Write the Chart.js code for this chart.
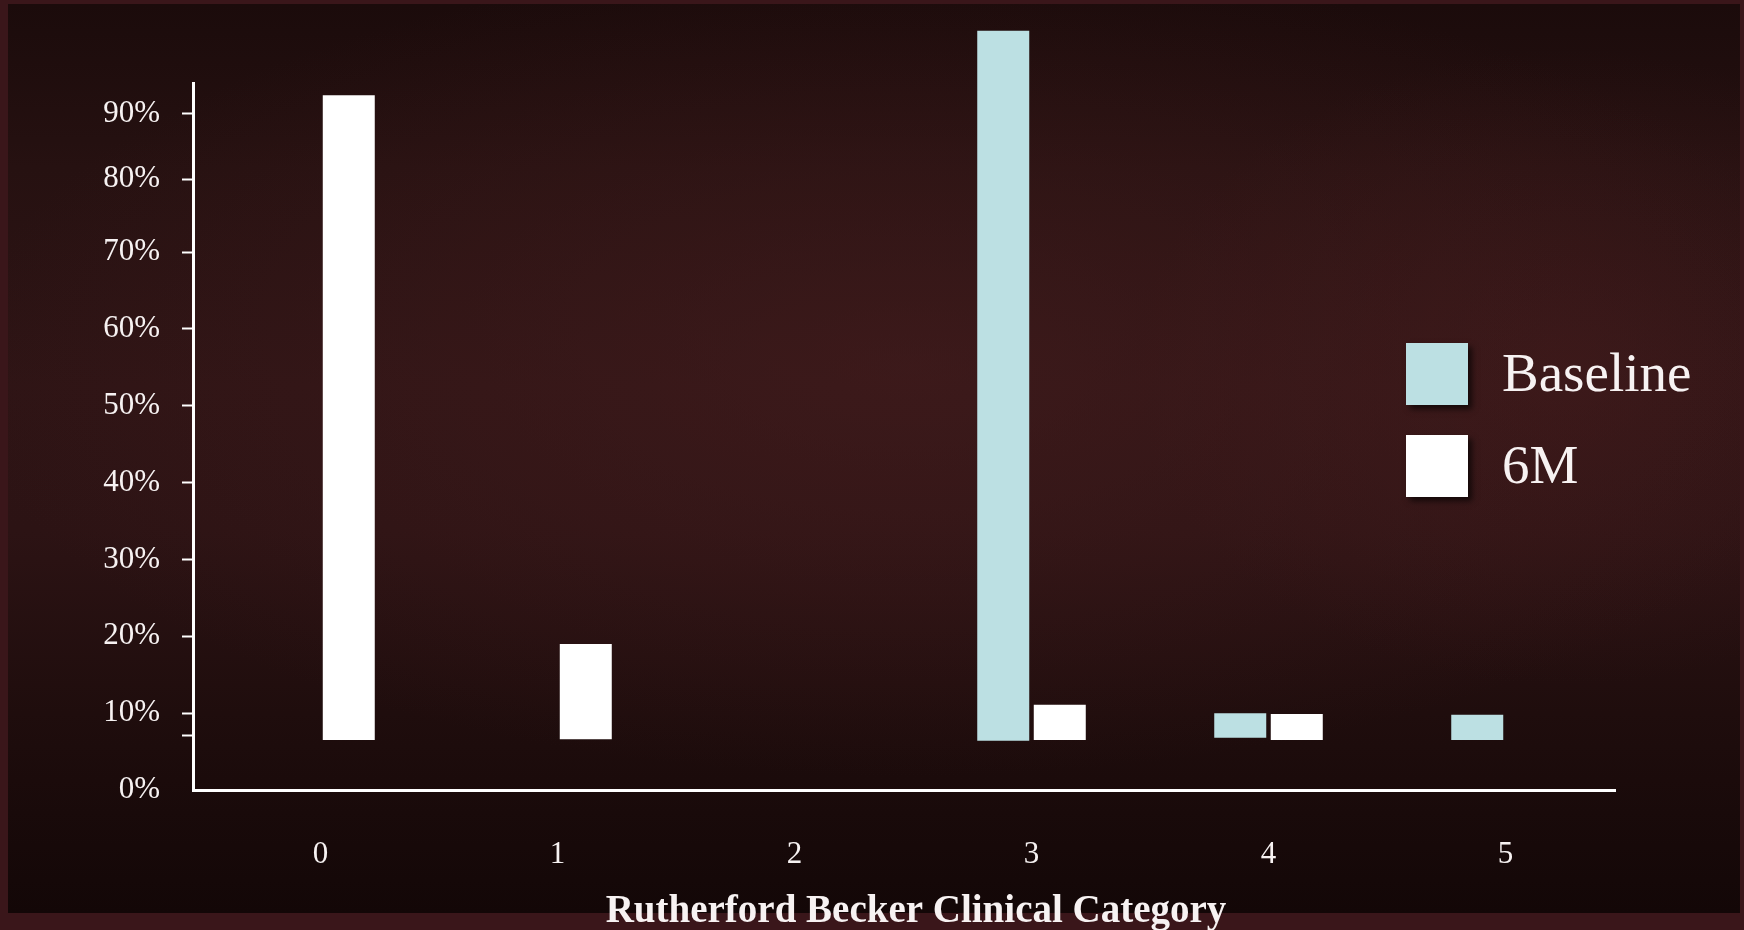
<!DOCTYPE html>
<html>
<head>
<meta charset="utf-8">
<title>Rutherford Becker Clinical Category</title>
<script src="https://cdn.jsdelivr.net/npm/chart.js@4/dist/chart.umd.min.js"></script>
<style>
  html, body { margin: 0; padding: 0; }
  body {
    width: 1744px; height: 930px; overflow: hidden; position: relative;
    background: #3a161a;
  }
  #panel {
    position: absolute; left: 8px; top: 4px; width: 1732px; height: 909px;
    background:
      radial-gradient(ellipse 55% 45% at 52% 40%, rgba(72, 30, 31, 0.55), rgba(72, 30, 31, 0) 100%),
      radial-gradient(ellipse 25% 35% at 90% 40%, rgba(70, 28, 29, 0.5), rgba(70, 28, 29, 0) 100%),
      linear-gradient(to bottom, #1b0b0b 0%, #261111 18%, #2e1415 42%, #2c1314 58%, #1f0d0d 78%, #130707 100%);
  }
  #wrap { position: absolute; left: 0; top: 0; width: 1744px; height: 930px; }
</style>
</head>
<body>
<div id="panel"></div>
<div id="wrap"><canvas id="chart"></canvas></div>
<script>
// Rutherford Becker clinical category, share of patients (%)
const categories = ['0', '1', '2', '3', '4', '5'];
const seriesNames = ['Baseline', '6M'];

// Floating bars: each bar runs from its low value to its high value
const baselineLow  = [null, null, null, 6.4, 6.8, 6.5];
const baselineHigh = [null, null, null, 98.8, 10.0, 9.8];
const sixMonthLow  = [6.5, 6.6, null, 6.5, 6.5, null];
const sixMonthHigh = [90.4, 19.0, null, 11.1, 9.9, null];

// Y axis tick values and their labels
const yTickValues = [0, 7.1, 10, 20, 30, 40, 50, 60, 70, 79.5, 88];
const yTickLabels = ['0%', '', '10%', '20%', '30%', '40%', '50%', '60%', '70%', '80%', '90%'];

const xAxisTitle = 'Rutherford Becker Clinical Category';

// Category index on a numeric axis, so the category band can sit slightly off the axis ends
const points = (lo, hi) => categories
  .map((c, i) => ({ x: i, y: [lo[i], hi[i]] }))
  .filter(p => p.y[0] !== null && p.y[1] !== null);

const FONT = "'Liberation Serif', 'Times New Roman', serif";
const TEXT = '#f7f2f2';
const colors = ['#bce0e3', '#ffffff'];

// Legend drawn over the plot area, to the right
const overlayLegend = {
  id: 'overlayLegend',
  afterDraw(chart) {
    const ctx = chart.ctx;
    const box = 62, step = 92, x0 = 1406, y0 = 343;
    ctx.save();
    chart.data.datasets.forEach((ds, i) => {
      const y = y0 + i * step;
      ctx.save();
      ctx.shadowColor = 'rgba(0,0,0,0.65)';
      ctx.shadowBlur = 6;
      ctx.shadowOffsetX = 4;
      ctx.shadowOffsetY = 4;
      ctx.fillStyle = ds.backgroundColor;
      ctx.fillRect(x0, y, box, box);
      ctx.restore();
      ctx.fillStyle = TEXT;
      ctx.font = '55px ' + FONT;
      ctx.textAlign = 'left';
      ctx.textBaseline = 'middle';
      ctx.fillText(ds.label, x0 + 96, y + box / 2 + 3);
    });
    ctx.restore();
  }
};

// Bold category-axis title along the bottom edge
const axisTitle = {
  id: 'axisTitle',
  afterDraw(chart) {
    const ctx = chart.ctx;
    ctx.save();
    ctx.fillStyle = TEXT;
    ctx.font = 'bold 39px ' + FONT;
    ctx.textAlign = 'center';
    ctx.textBaseline = 'alphabetic';
    ctx.fillText(xAxisTitle, 916, 922);
    ctx.restore();
  }
};

new Chart(document.getElementById('chart'), {
  type: 'bar',
  data: {
    datasets: [
      { label: seriesNames[0], data: points(baselineLow, baselineHigh), backgroundColor: colors[0], clip: false },
      { label: seriesNames[1], data: points(sixMonthLow, sixMonthHigh), backgroundColor: colors[1], clip: false }
    ]
  },
  options: {
    responsive: true,
    maintainAspectRatio: false,
    animation: false,
    categoryPercentage: 0.477,
    barPercentage: 0.92,
    layout: { padding: { top: 83, right: 129, left: 0, bottom: 0 } },
    plugins: {
      legend: { display: false },
      tooltip: { enabled: false },
      title: { display: false }
    },
    scales: {
      x: {
        type: 'linear',
        offset: false,
        min: -0.538,
        max: 5.462,
        grid: { display: false },
        border: { display: true, color: '#ffffff', width: 3 },
        afterBuildTicks(scale) { scale.ticks = categories.map((c, i) => ({ value: i })); },
        ticks: {
          autoSkip: false,
          maxRotation: 0,
          color: TEXT,
          font: { family: FONT, size: 31 },
          padding: 38,
          callback: (value) => categories[value]
        },
        afterFit(scale) { scale.height = 140; }
      },
      y: {
        min: 0,
        max: 92,
        grid: {
          drawOnChartArea: false,
          drawTicks: true,
          tickLength: 11,
          tickWidth: 2,
          tickColor: (c) => (c.tick && c.tick.value === 0) ? 'rgba(0,0,0,0)' : '#ffffff'
        },
        border: { display: true, color: '#ffffff', width: 3 },
        afterBuildTicks(scale) { scale.ticks = yTickValues.map(v => ({ value: v })); },
        ticks: {
          autoSkip: false,
          color: TEXT,
          font: { family: FONT, size: 31 },
          padding: 22,
          callback: (value, index) => yTickLabels[index]
        },
        afterFit(scale) { scale.width = 193; }
      }
    }
  },
  plugins: [overlayLegend, axisTitle]
});
</script>
</body>
</html>
